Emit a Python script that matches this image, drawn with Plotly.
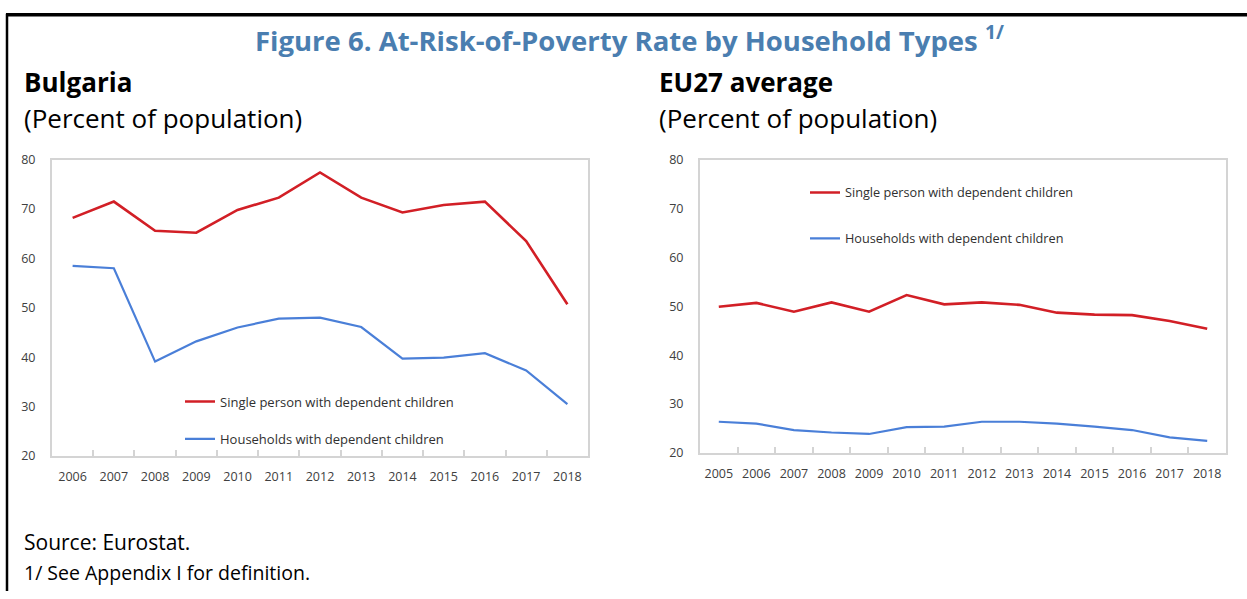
import plotly.graph_objects as go

# ---- data ----
bg_years = [str(y) for y in range(2006, 2019)]
bg_single = [68.2, 71.5, 65.6, 65.2, 69.8, 72.3, 77.4, 72.3, 69.3, 70.8, 71.5, 63.5, 50.7]
bg_households = [58.5, 58.0, 39.1, 43.2, 46.0, 47.8, 48.0, 46.1, 39.7, 39.9, 40.8, 37.3, 30.5]

eu_years = [str(y) for y in range(2005, 2019)]
eu_single = [49.9, 50.7, 48.9, 50.8, 48.9, 52.3, 50.4, 50.8, 50.3, 48.7, 48.3, 48.2, 47.0, 45.4]
eu_households = [26.4, 26.0, 24.7, 24.2, 23.9, 25.3, 25.4, 26.4, 26.4, 26.0, 25.4, 24.7, 23.2, 22.5]

y_ticks = [20, 30, 40, 50, 60, 70, 80]
series_names = ["Single person with dependent children", "Households with dependent children"]

RED = "#d21f26"
BLUE = "#4a7fd8"
W, H = 1247, 599
FONT = "Open Sans"


def px(t):
    return t / W


def py(t):
    return 1 - t / H


fig = go.Figure()

fig.add_trace(go.Scatter(x=bg_years, y=bg_single, mode="lines", name=series_names[0],
                         line=dict(color=RED, width=2.6), xaxis="x", yaxis="y",
                         legend="legend", legendgroup="a"))
fig.add_trace(go.Scatter(x=bg_years, y=bg_households, mode="lines", name=series_names[1],
                         line=dict(color=BLUE, width=2.2), xaxis="x", yaxis="y",
                         legend="legend", legendgroup="b"))
fig.add_trace(go.Scatter(x=eu_years, y=eu_single, mode="lines", name=series_names[0],
                         line=dict(color=RED, width=2.6), xaxis="x2", yaxis="y2",
                         legend="legend2", legendgroup="c"))
fig.add_trace(go.Scatter(x=eu_years, y=eu_households, mode="lines", name=series_names[1],
                         line=dict(color=BLUE, width=2.2), xaxis="x2", yaxis="y2",
                         legend="legend2", legendgroup="d"))

axis_common = dict(showline=True, linecolor="#d4d4d4", linewidth=2, mirror=True,
                   showgrid=False, zeroline=False,
                   tickfont=dict(family=FONT, size=12.5, color="#404040"))

xcommon = dict(axis_common, type="category", ticks="inside", tickson="boundaries",
               ticklen=6, tickcolor="#d4d4d4", tickwidth=1.5, ticklabelstandoff=8,
               tickangle=0)
ycommon = dict(axis_common, range=[20, 80], tickvals=y_ticks, ticks="",
               ticklabelstandoff=12)


def legend_x(text_start):
    return (text_start - 40) / W


def legend_y(first_center):
    return 1 - (first_center - 14.4) / H


fig.update_layout(
    width=W, height=H,
    margin=dict(l=0, r=0, t=0, b=0),
    paper_bgcolor="white", plot_bgcolor="white",
    showlegend=True,
    xaxis=dict(xcommon, domain=[px(52), px(588)], anchor="y",
               range=[-0.5, len(bg_years) - 0.5]),
    yaxis=dict(ycommon, domain=[py(460), py(155)], anchor="x"),
    xaxis2=dict(xcommon, domain=[px(700), px(1226)], anchor="y2",
                range=[-0.5, len(eu_years) - 0.5]),
    yaxis2=dict(ycommon, domain=[py(457), py(155)], anchor="x2"),
    legend=dict(x=legend_x(220), y=legend_y(403), xanchor="left", yanchor="top",
                bgcolor="rgba(0,0,0,0)", itemwidth=30, tracegroupgap=17.5,
                font=dict(family=FONT, size=13, color="#303030")),
    legend2=dict(x=legend_x(845), y=legend_y(188), xanchor="left", yanchor="top",
                 bgcolor="rgba(0,0,0,0)", itemwidth=30, tracegroupgap=26.5,
                 font=dict(family=FONT, size=12.7, color="#303030")),
)

# Titles and notes
fig.add_annotation(text="Figure 6. At-Risk-of-Poverty Rate by Household Types <sup>1/</sup>",
                   x=px(629), y=py(30), xref="paper", yref="paper", showarrow=False,
                   xanchor="center", yanchor="middle",
                   font=dict(family=FONT, size=27.5, color="#4a7eb0", weight="bold"))
for xx, label in [(22, "Bulgaria"), (657, "EU27 average")]:
    fig.add_annotation(text="<b>" + label + "</b>", x=px(xx), y=py(75), xref="paper", yref="paper",
                       showarrow=False, xanchor="left", yanchor="middle",
                       font=dict(family=FONT, size=26, color="black"))
    fig.add_annotation(text="(Percent of population)", x=px(xx), y=py(112), xref="paper", yref="paper",
                       showarrow=False, xanchor="left", yanchor="middle",
                       font=dict(family=FONT, size=26, color="black"))

fig.add_annotation(text="Source: Eurostat.", x=px(22), y=py(549), xref="paper", yref="paper",
                   showarrow=False, xanchor="left", yanchor="middle",
                   font=dict(family=FONT, size=21, color="black"))
fig.add_annotation(text="1/ See Appendix I for definition.",
                   x=px(22), y=py(580), xref="paper", yref="paper",
                   showarrow=False, xanchor="left", yanchor="middle",
                   font=dict(family=FONT, size=19.5, color="black"))

# Frame lines (top and left)
fig.add_shape(type="line", xref="paper", yref="paper", x0=px(6), x1=1, y0=py(6), y1=py(6),
              line=dict(color="black", width=3.5))
fig.add_shape(type="line", xref="paper", yref="paper", x0=px(7), x1=px(7), y0=py(5), y1=0,
              line=dict(color="black", width=2.5))

page_css = ("document.documentElement.style.margin='0';"
            "document.documentElement.style.overflow='hidden';"
            "document.body.style.margin='0';"
            "document.body.style.overflow='hidden';")

fig.write_html("out.html", post_script=page_css, config={"displayModeBar": False})
